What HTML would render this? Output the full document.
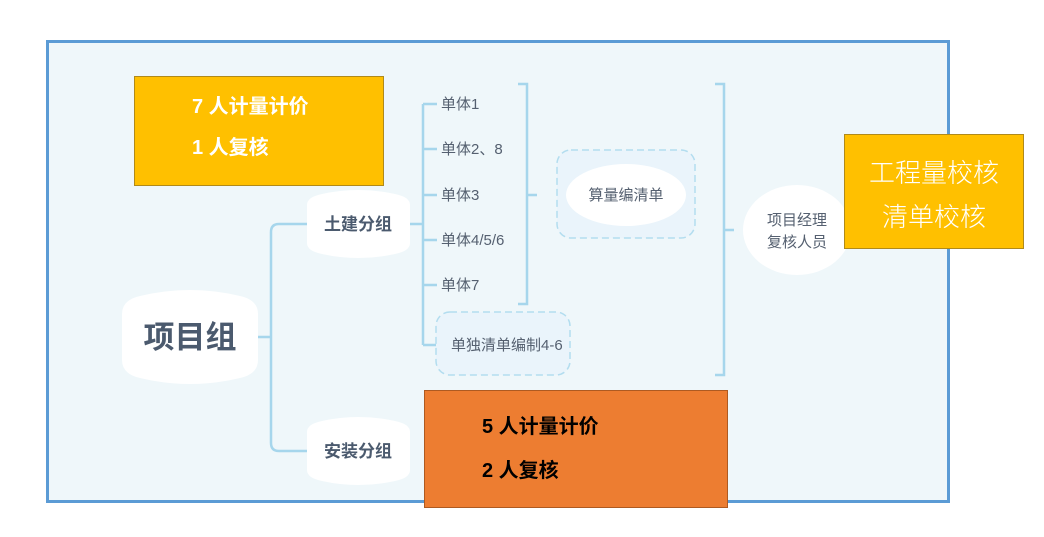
<!DOCTYPE html>
<html><head><meta charset="utf-8"><style>
body{margin:0;width:1044px;height:537px;background:#fff;position:relative;overflow:hidden;font-family:"Liberation Sans","Noto Sans CJK SC",sans-serif}
.a{position:absolute}
</style></head><body>
<div class="a" style="left:46px;top:40px;width:898px;height:457px;border:3px solid #5b9bd5;background:#eff7fa"></div>
<svg class="a" style="left:0;top:0" width="1044" height="537">
<g fill="none" stroke="#a6d6ec" stroke-width="2.5">
<path d="M258 337H271M271 232Q271 224 279 224H307M271 232V443Q271 451 279 451H307"/>
<path d="M410 224H423M423 104V345M423 104H437M423 149H437M423 195H437M423 240H437M423 285H437M423 345H446"/>
<path d="M518 84H527V304H518M527 195H537"/>
<path d="M715 84H724V375H715M724 230H734"/>
</g>
<g fill="#eaf4fb" stroke="#b3ddef" stroke-width="1.5" stroke-dasharray="7 4">
<rect x="557" y="150" width="138" height="88" rx="14"/>
<rect x="436" y="312" width="134" height="63" rx="14"/>
</g>
<g fill="#fff">
<path d="M122 314Q122 300 140 296Q190 284 240 296Q258 300 258 314V360Q258 374 240 378Q190 390 140 378Q122 374 122 360Z"/>
<path d="M307 205Q307 197 322 194Q358 186 395 194Q410 197 410 205V243Q410 251 395 254Q358 262 322 254Q307 251 307 243Z"/>
<path d="M307 432Q307 424 322 421Q358 413 395 421Q410 424 410 432V470Q410 478 395 481Q358 489 322 481Q307 478 307 470Z"/>
<ellipse cx="626" cy="195" rx="60" ry="31"/>
<ellipse cx="797" cy="230" rx="54" ry="45"/>
</g>
<g fill="#4b5a6e" font-family="Liberation Sans,Noto Sans CJK SC,sans-serif">
<text x="190" y="348" font-size="31" font-weight="bold" text-anchor="middle">项目组</text>
<text x="358" y="230" font-size="17" font-weight="bold" text-anchor="middle">土建分组</text>
<text x="358" y="457" font-size="17" font-weight="bold" text-anchor="middle">安装分组</text>
<g font-size="15" fill="#556070">
<text x="441" y="109">单体1</text>
<text x="441" y="154">单体2、8</text>
<text x="441" y="200">单体3</text>
<text x="441" y="245">单体4/5/6</text>
<text x="441" y="290">单体7</text>
<text x="451" y="350">单独清单编制4-6</text>
<text x="626" y="200" text-anchor="middle">算量编清单</text>
<text x="797" y="225" text-anchor="middle">项目经理</text>
<text x="797" y="247" text-anchor="middle">复核人员</text>
</g></g>
</svg>
<div class="a" style="left:134px;top:76px;width:250px;height:110px;background:#ffc000;border:1px solid #b08a1a;color:#fff;font-weight:bold;font-size:20px;line-height:41px;box-sizing:border-box">
<div style="position:absolute;left:57px;top:10px;white-space:nowrap">7 人计量计价<br>1 人复核</div></div>
<div class="a" style="left:844px;top:134px;width:180px;height:115px;background:#ffc000;border:1px solid #b08a1a;box-sizing:border-box;color:#fff;font-size:26px;line-height:44px;text-align:center;padding-top:16px;font-weight:300">工程量校核<br>清单校核</div>
<div class="a" style="left:424px;top:390px;width:304px;height:118px;background:#ed7d31;border:1px solid #ae5a21;box-sizing:border-box;color:#000;font-weight:bold;font-size:20px;line-height:44px">
<div style="position:absolute;left:57px;top:14px;white-space:nowrap">5 人计量计价<br>2 人复核</div></div>
</body></html>
